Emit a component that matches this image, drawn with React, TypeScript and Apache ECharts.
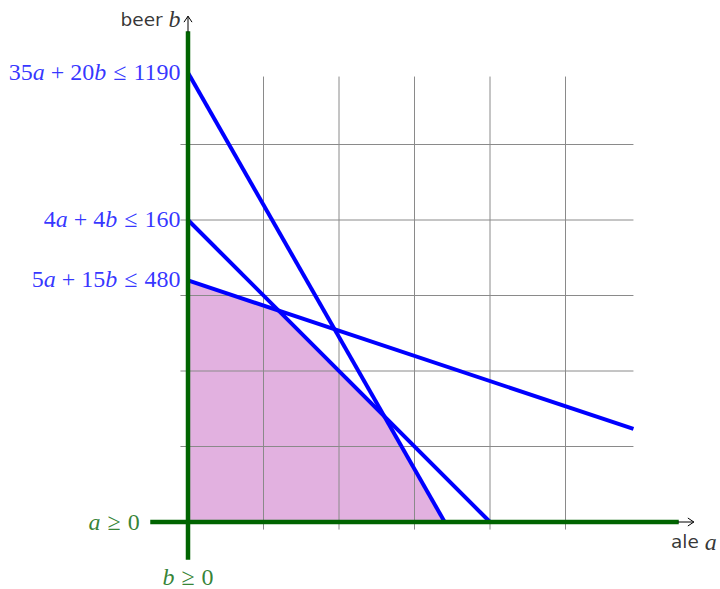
import React, { useEffect, useRef } from 'react';
import * as echarts from 'echarts';

// ---- data ----
const constraintTexts = ['35a + 20b ≤ 1190', '4a + 4b ≤ 160', '5a + 15b ≤ 480'];
const constraintIntercepts = [59.5, 40, 32];
const line1190 = [[0, 59.5], [34, 0]];
const line160 = [[0, 40], [40, 0]];
const line480 = [[0, 32], [59, 12.33]];
const feasibleRegion = [[0, 0], [0, 32], [12, 28], [26, 14], [34, 0]];
const gridTicks = [10, 20, 30, 40, 50];
const gridExtent = [-1, 59];
const axisExtent = [-5, 65];
const arrowTip = 67;
const nonNegLabels = ['a ≥ 0', 'b ≥ 0'];
const axisNames = ['ale', 'beer'];
const axisVars = ['a', 'b'];

const BLUE = '#0000ff';
const GREEN = '#006400';
const FILL = '#e2b1e0';
const SERIF = '"Liberation Serif", "DejaVu Serif", serif';
const SANS = '"DejaVu Sans", sans-serif';
const MATH_SIZE = 24;

function toRich(t: string) {
  return t
    .replace(/ \+ /g, '{op|+}')
    .replace(/ ≤ /g, '{rel|≤}')
    .replace(/ ≥ /g, '{rel|≥}')
    .replace(/([ab])/g, '{i|$1}');
}

function mathRich(color: string) {
  return {
    i: { fontStyle: 'italic', fontFamily: SERIF, fontSize: MATH_SIZE, color, lineHeight: 26 },
    op: { fontFamily: SERIF, fontSize: MATH_SIZE, color, padding: [0, 6, 0, 6], lineHeight: 26 },
    rel: { fontFamily: SERIF, fontSize: MATH_SIZE, color, padding: [0, 7, 0, 7], lineHeight: 26 },
    s: { fontFamily: SANS, fontSize: 18.5, color: '#000', lineHeight: 26 },
  };
}

function mathLabel(text: string, color: string, position: string, distance: number, extra: any = {}) {
  return {
    show: true,
    position,
    distance,
    formatter: text,
    fontFamily: SERIF,
    fontSize: MATH_SIZE,
    lineHeight: 26,
    color,
    rich: mathRich(color),
    ...extra,
  };
}

export default function App() {
  const ref = useRef<HTMLDivElement>(null);
  useEffect(() => {
    if (!ref.current) return;
    const chart = echarts.init(ref.current, undefined, { renderer: 'svg' });
    const s = 7.55;
    const ox = 188;
    const oy = 522;
    const left = ox + axisExtent[0] * s;
    const width = (axisExtent[1] - axisExtent[0]) * s;
    const top = oy - axisExtent[1] * s;

    const option: any = {
      animation: false,
      backgroundColor: '#ffffff',
      grid: { left, top, width, height: width, containLabel: false },
      xAxis: { type: 'value', min: axisExtent[0], max: axisExtent[1], show: false },
      yAxis: { type: 'value', min: axisExtent[0], max: axisExtent[1], show: false },
      series: [
        {
          type: 'custom',
          z: 1,
          data: [0],
          renderItem: (params: any, api: any) => ({
            type: 'polygon',
            shape: { points: feasibleRegion.map((p) => api.coord(p)) },
            style: { fill: FILL },
          }),
        },
        {
          type: 'custom',
          z: 2,
          data: gridTicks,
          renderItem: (params: any, api: any) => {
            const v = api.value(0);
            const a1 = api.coord([v, gridExtent[0]]);
            const a2 = api.coord([v, gridExtent[1]]);
            const b1 = api.coord([gridExtent[0], v]);
            const b2 = api.coord([gridExtent[1], v]);
            const st = { stroke: '#8a8a8a', lineWidth: 1 };
            return {
              type: 'group',
              children: [
                { type: 'line', shape: { x1: a1[0], y1: a1[1], x2: a2[0], y2: a2[1] }, style: st },
                { type: 'line', shape: { x1: b1[0], y1: b1[1], x2: b2[0], y2: b2[1] }, style: st },
              ],
            };
          },
        },
        ...[line1190, line160, line480].map((d) => ({
          type: 'line',
          z: 3,
          data: d,
          symbol: 'none',
          clip: false,
          lineStyle: { color: BLUE, width: 4 },
        })),
        {
          type: 'line',
          z: 4,
          data: [[axisExtent[0], 0], [axisExtent[1], 0]],
          symbol: 'none',
          clip: false,
          lineStyle: { color: GREEN, width: 4.5 },
        },
        {
          type: 'line',
          z: 4,
          data: [[0, axisExtent[0]], [0, axisExtent[1]]],
          symbol: 'none',
          clip: false,
          lineStyle: { color: GREEN, width: 4.5 },
        },
        {
          type: 'custom',
          z: 5,
          data: [0],
          clip: false,
          renderItem: (params: any, api: any) => {
            const xs = api.coord([axisExtent[1], 0]);
            const xt = api.coord([arrowTip, 0]);
            const ys = api.coord([0, axisExtent[1]]);
            const yt = api.coord([0, arrowTip]);
            const st = { stroke: '#000', lineWidth: 1, fill: 'none' };
            const h = 6;
            const w = 4;
            return {
              type: 'group',
              children: [
                { type: 'line', shape: { x1: xs[0] - 1, y1: xs[1], x2: xt[0], y2: xt[1] }, style: st },
                {
                  type: 'polyline',
                  shape: { points: [[xt[0] - h, xt[1] - w], [xt[0], xt[1]], [xt[0] - h, xt[1] + w]] },
                  style: st,
                },
                { type: 'line', shape: { x1: ys[0], y1: ys[1] + 1, x2: yt[0], y2: yt[1] }, style: st },
                {
                  type: 'polyline',
                  shape: { points: [[yt[0] - w, yt[1] + h], [yt[0], yt[1]], [yt[0] + w, yt[1] + h]] },
                  style: st,
                },
              ],
            };
          },
        },
        {
          type: 'scatter',
          z: 6,
          symbolSize: 1,
          clip: false,
          itemStyle: { color: 'rgba(0,0,0,0)' },
          data: [
            ...constraintTexts.map((t, i) => ({
              value: [0, constraintIntercepts[i]],
              label: mathLabel(toRich(t), BLUE, 'left', 7, { offset: [0, -1] }),
            })),
            {
              value: [axisExtent[0], 0],
              label: mathLabel(toRich(nonNegLabels[0]), GREEN, 'left', 10),
            },
            {
              value: [0, axisExtent[0]],
              label: mathLabel(toRich(nonNegLabels[1]), GREEN, 'bottom', 4),
            },
            {
              value: [arrowTip, 0],
              label: mathLabel('{s|' + axisNames[0] + ' }{i|' + axisVars[0] + '}', '#000', 'bottom', 6),
            },
            {
              value: [0, arrowTip],
              label: mathLabel('{s|' + axisNames[1] + ' }{i|' + axisVars[1] + '}', '#000', 'left', 7, {
                offset: [0, 3],
              }),
            },
          ],
        },
      ],
    };
    chart.setOption(option);
    return () => chart.dispose();
  }, []);
  return (
    <div
      ref={ref}
      style={{ position: 'fixed', left: 0, top: 0, width: 720, height: 589, background: '#fff' }}
    />
  );
}
